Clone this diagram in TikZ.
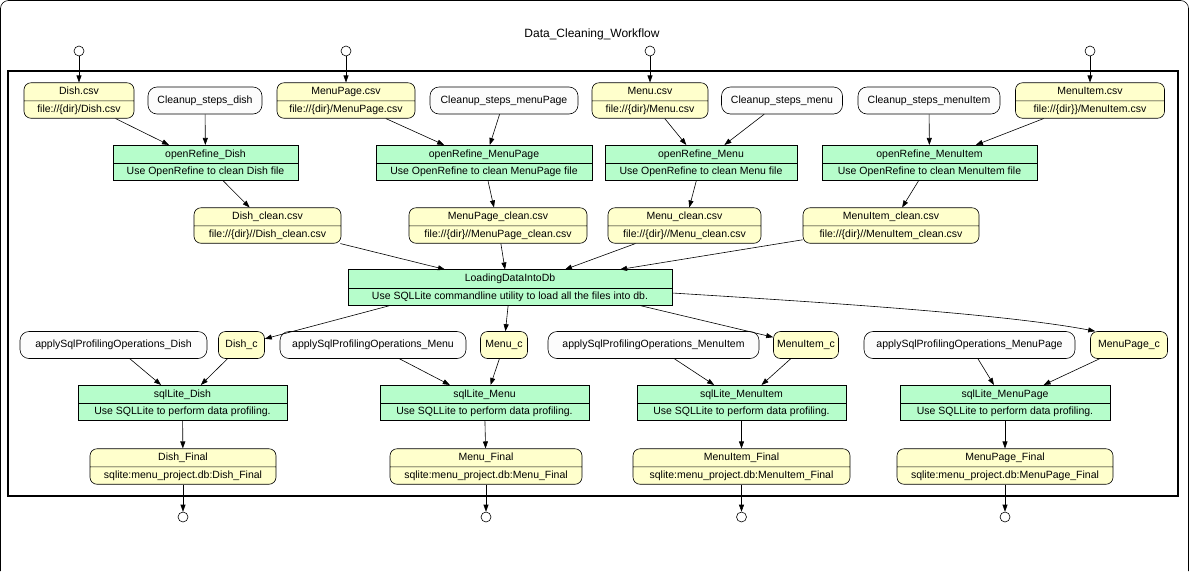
\documentclass[tikz,border=0pt]{standalone}
\usepackage{fontspec}
\setmainfont{Liberation Sans}
\usepackage{tikz}
\usepackage{xcolor}
\usetikzlibrary{arrows.meta, shapes.multipart, positioning}

\definecolor{datayellow}{HTML}{FFFFCC}
\definecolor{stepgreen}{HTML}{B6FDCB}
\definecolor{paramwhite}{HTML}{FCFCFC}

\tikzset{
  base/.style={draw, line width=0.6pt, font=\fontsize{10.5}{12}\selectfont, text height=8pt, text depth=2.5pt},
  datanode/.style={base, rectangle split, rectangle split parts=2, rounded corners=7pt, fill=datayellow, inner ysep=3.5pt},
  stepnode/.style={base, rectangle split, rectangle split parts=2, fill=stepgreen, inner ysep=3.5pt},
  paramnode/.style={base, rounded corners=9pt, fill=paramwhite, minimum height=27pt},
  datac/.style={base, rounded corners=7pt, fill=datayellow, minimum height=27pt},
  port/.style={draw, circle, fill=white, minimum size=10pt, inner sep=0pt, line width=0.6pt},
  flow/.style={-{Triangle[length=7pt,width=5pt]}, line width=0.6pt}
}

\begin{document}
\begin{tikzpicture}[x=1pt, y=-1pt]
  \useasboundingbox (0,0) rectangle (1190,571);
  \draw[rounded corners=8pt, line width=0.6pt] (0.5,571) -- (0.5,0.5) -- (1188.5,0.5) -- (1188.5,571);
  \draw[line width=1.6pt] (8,71) rectangle (1178,496);
  \node[font=\fontsize{12}{14}\selectfont] (title) at (592,34) {Data\_Cleaning\_Workflow};

  \node[port] (indish) at (79,51) {};
  \node[port] (inmenupage) at (346,51) {};
  \node[port] (inmenu) at (650,51) {};
  \node[port] (inmenuitem) at (1090,51) {};

  \node[datanode, minimum width=110pt] (dishcsv) at (79,100.5) {Dish.csv \nodepart{two} file://\{dir\}/Dish.csv};
  \node[paramnode, minimum width=114pt] (stepsdish) at (205,100.5) {Cleanup\_steps\_dish};
  \node[datanode, minimum width=138pt] (menupagecsv) at (346,100.5) {MenuPage.csv \nodepart{two} file://\{dir\}/MenuPage.csv};
  \node[paramnode, minimum width=148pt] (stepsmenupage) at (504,100.5) {Cleanup\_steps\_menuPage};
  \node[datanode, minimum width=116pt] (menucsv) at (650,100.5) {Menu.csv \nodepart{two} file://\{dir\}/Menu.csv};
  \node[paramnode, minimum width=121pt] (stepsmenu) at (782,100.5) {Cleanup\_steps\_menu};
  \node[paramnode, minimum width=142pt] (stepsmenuitem) at (929,100.5) {Cleanup\_steps\_menuItem};
  \node[datanode, minimum width=149pt] (menuitemcsv) at (1090,100.5) {MenuItem.csv \nodepart{two} file://\{dir\}\}/MenuItem.csv};

  \node[stepnode, minimum width=185pt] (refdish) at (205.5,163) {openRefine\_Dish \nodepart{two} Use OpenRefine to clean Dish file};
  \node[stepnode, minimum width=216pt] (refmenupage) at (484,163) {openRefine\_MenuPage \nodepart{two} Use OpenRefine to clean MenuPage file};
  \node[stepnode, minimum width=192pt] (refmenu) at (701,163) {openRefine\_Menu \nodepart{two} Use OpenRefine to clean Menu file};
  \node[stepnode, minimum width=215pt] (refmenuitem) at (929.5,163) {openRefine\_MenuItem \nodepart{two} Use OpenRefine to clean MenuItem file};

  \node[datanode, minimum width=147pt] (dishclean) at (267.5,225.5) {Dish\_clean.csv \nodepart{two} file://\{dir\}//Dish\_clean.csv};
  \node[datanode, minimum width=178pt] (menupageclean) at (498,225.5) {MenuPage\_clean.csv \nodepart{two} file://\{dir\}//MenuPage\_clean.csv};
  \node[datanode, minimum width=153pt] (menuclean) at (684.5,225.5) {Menu\_clean.csv \nodepart{two} file://\{dir\}//Menu\_clean.csv};
  \node[datanode, minimum width=176pt] (menuitemclean) at (891,225.5) {MenuItem\_clean.csv \nodepart{two} file://\{dir\}//MenuItem\_clean.csv};

  \node[stepnode, minimum width=324pt] (load) at (510,287.5) {LoadingDataIntoDb \nodepart{two} Use SQLLite commandline utility to load all the files into db.};

  \node[paramnode, minimum width=187pt] (applydish) at (113.5,345) {applySqlProfilingOperations\_Dish};
  \node[datac, minimum width=46pt] (dishc) at (241.5,345) {Dish\_c};
  \node[paramnode, minimum width=186pt] (applymenu) at (373,345) {applySqlProfilingOperations\_Menu};
  \node[datac, minimum width=47pt] (menuc) at (504,345) {Menu\_c};
  \node[paramnode, minimum width=211pt] (applymenuitem) at (653.5,345) {applySqlProfilingOperations\_MenuItem};
  \node[datac, minimum width=65pt] (menuitemc) at (806,345) {MenuItem\_c};
  \node[paramnode, minimum width=211pt] (applymenupage) at (969.5,345) {applySqlProfilingOperations\_MenuPage};
  \node[datac, minimum width=77pt] (menupagec) at (1129,345) {MenuPage\_c};

  \node[stepnode, minimum width=209pt] (sqldish) at (182.5,403) {sqlLite\_Dish \nodepart{two} Use SQLLite to perform data profiling.};
  \node[stepnode, minimum width=209pt] (sqlmenu) at (484.5,403) {sqlLite\_Menu \nodepart{two} Use SQLLite to perform data profiling.};
  \node[stepnode, minimum width=209pt] (sqlmenuitem) at (741.5,403) {sqlLite\_MenuItem \nodepart{two} Use SQLLite to perform data profiling.};
  \node[stepnode, minimum width=210pt] (sqlmenupage) at (1005,403) {sqlLite\_MenuPage \nodepart{two} Use SQLLite to perform data profiling.};

  \node[datanode, minimum width=186pt] (dishfinal) at (183,466.5) {Dish\_Final \nodepart{two} sqlite:menu\_project.db:Dish\_Final};
  \node[datanode, minimum width=192pt] (menufinal) at (486,466.5) {Menu\_Final \nodepart{two} sqlite:menu\_project.db:Menu\_Final};
  \node[datanode, minimum width=217pt] (menuitemfinal) at (741.5,466.5) {MenuItem\_Final \nodepart{two} sqlite:menu\_project.db:MenuItem\_Final};
  \node[datanode, minimum width=216pt] (menupagefinal) at (1005,466.5) {MenuPage\_Final \nodepart{two} sqlite:menu\_project.db:MenuPage\_Final};

  \node[port] (outdish) at (183,517) {};
  \node[port] (outmenu) at (486,517) {};
  \node[port] (outmenuitem) at (741.5,517) {};
  \node[port] (outmenupage) at (1005,517) {};

  \draw[flow]
  (indish) edge (dishcsv)
  (inmenupage) edge (menupagecsv)
  (inmenu) edge (menucsv)
  (inmenuitem) edge (menuitemcsv)
  (dishcsv) edge (refdish)
  (stepsdish) edge (refdish)
  (menupagecsv) edge (refmenupage)
  (stepsmenupage) edge (refmenupage)
  (menucsv) edge (refmenu)
  (stepsmenu) edge (refmenu)
  (stepsmenuitem) edge (refmenuitem)
  (menuitemcsv) edge (refmenuitem)
  (refdish) edge (dishclean)
  (refmenupage) edge (menupageclean)
  (refmenu) edge (menuclean)
  (refmenuitem) edge (menuitemclean)
  (load) edge (menuc)
  (applydish) edge (sqldish)
  (dishc) edge (sqldish)
  (applymenu) edge (sqlmenu)
  (menuc) edge (sqlmenu)
  (applymenuitem) edge (sqlmenuitem)
  (menuitemc) edge (sqlmenuitem)
  (applymenupage) edge (sqlmenupage)
  (menupagec) edge (sqlmenupage)
  (sqldish) edge (dishfinal)
  (sqlmenu) edge (menufinal)
  (sqlmenuitem) edge (menuitemfinal)
  (sqlmenupage) edge (menupagefinal)
  (dishfinal) edge (outdish)
  (menufinal) edge (outmenu)
  (menuitemfinal) edge (outmenuitem)
  (menupagefinal) edge (outmenupage);
  \draw[flow] (dishclean) -- ([xshift=-65pt]load.north);
  \draw[flow] (menupageclean) -- ([xshift=-5pt]load.north);
  \draw[flow] (menuclean) -- ([xshift=55pt]load.north);
  \draw[flow] (menuitemclean) -- ([xshift=110pt]load.north);
  \draw[flow] ([xshift=-120pt]load.south) -- (dishc);
  \draw[flow] ([xshift=130pt]load.south) -- (menuitemc);
  \draw[flow] ([yshift=-5.5pt]load.east) .. controls (800,301) and (1000,313) .. ([xshift=5pt]menupagec.north west);
\end{tikzpicture}
\end{document}
